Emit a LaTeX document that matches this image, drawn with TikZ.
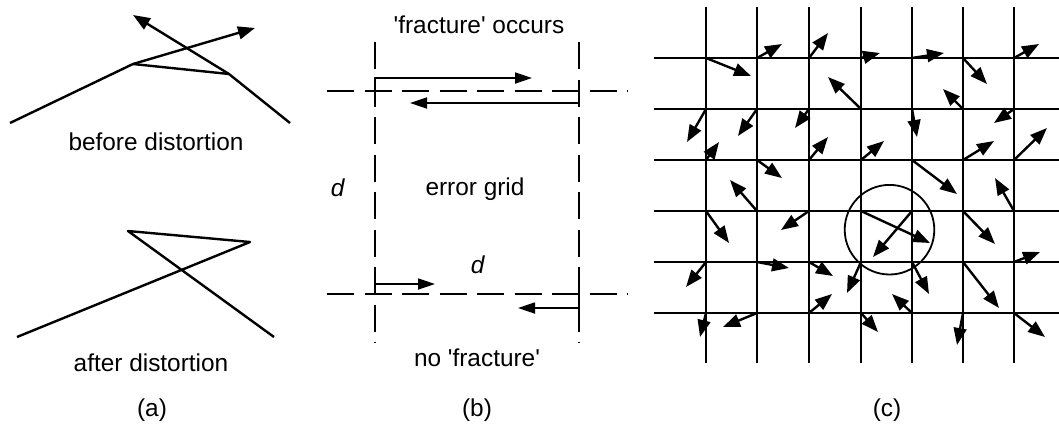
\documentclass[tikz,border=0pt]{standalone}
\usepackage{fontspec}
\setmainfont{Liberation Sans}[Ligatures=TeXOff]
\usetikzlibrary{arrows.meta}
\begin{document}
\begin{tikzpicture}[x=0.5pt,y=-0.5pt,
  tip/.style={-{Triangle[length=8.5pt,width=6.4pt]}},
  ln/.style={line width=1.2pt,line join=round},
  thin arrow/.style={line width=0.9pt,-{Triangle[length=8.5pt,width=5.5pt]}},
  dsh/.style={line width=1.1pt,dash pattern=on 13.5pt off 5.25pt},
  gridline/.style={line width=1.2pt},
  lbl/.style={anchor=base,inner sep=0pt,font=\fontsize{12.2}{14}\selectfont}]
\useasboundingbox (0,0) rectangle (1059,424);

% ---------- panel (a) ----------
\coordinate (a1) at (10,123);
\coordinate (a2) at (133,64);
\coordinate (a3) at (255,28);
\coordinate (a4) at (229,74);
\coordinate (a5) at (290,123);
\coordinate (a6) at (133,15);
\draw[ln,tip] (a1) -- (a2) -- (a3);
\draw[ln,tip] (a5) -- (a4) -- (a6);
\draw[ln] (a2) -- (a4);
\node[lbl] (tbefore) at (156,150) {before distortion};

\coordinate (b1) at (17,337);
\coordinate (b2) at (250,242);
\coordinate (b3) at (128,231);
\coordinate (b4) at (274,337);
\draw[ln] (b1) -- (b2) -- (b3) -- (b4);
\node[lbl] (tafter) at (151,371) {after distortion};
\node[lbl] (la) at (152,416) {(a)};

% ---------- panel (b) ----------
\draw[dsh] (375,42) -- (375,343);
\draw[dsh] (579,42) -- (579,343);
\draw[dsh] (327,91) -- (628,91);
\draw[dsh] (327,294) -- (628,294);

\coordinate (p1) at (375,91);
\coordinate (p1t) at (532,78);
\draw[thin arrow] (p1) -- (375,78) -- (p1t);
\coordinate (p2) at (579,91);
\coordinate (p2t) at (410,103);
\draw[thin arrow] (p2) -- (579,103) -- (p2t);
\coordinate (p3) at (375,294);
\coordinate (p3t) at (435,284);
\draw[thin arrow] (p3) -- (375,284) -- (p3t);
\coordinate (p4) at (579,294);
\coordinate (p4t) at (518,308);
\draw[thin arrow] (p4) -- (579,308) -- (p4t);

\node[lbl] (tfr) at (479,33) {'fracture' occurs};
\node[lbl] (td1) at (338,196) {\textit{d}};
\node[lbl] (teg) at (475,195) {error grid};
\node[lbl] (td2) at (478,273) {\textit{d}};
\node[lbl] (tnf) at (477,366) {no 'fracture'};
\node[lbl] (lb) at (477,416) {(b)};

% ---------- panel (c) ----------
\foreach \x in {706,757,809,861,912,963,1014}
  \draw[gridline] (\x,7) -- (\x,363);
\foreach \y in {58,109,160,211,262,313}
  \draw[gridline] (654,\y) -- (1059,\y);

\foreach \sx/\sy/\ex/\ey in {
  706/58/751/76, 757/58/782/44, 809/58/828/33, 861/58/880/53, 912/58/944/53, 963/58/987/84, 1014/58/1039/44,
  706/109/687/142, 757/109/738/136, 809/109/795/128, 861/109/828/77, 912/109/917/137, 963/109/943/89, 1014/109/994/123,
  706/160/719/142, 757/160/782/178, 809/160/828/137, 861/160/884/141, 912/160/957/194, 963/160/994/141, 1014/160/1047/128,
  706/211/729/243, 757/211/730/180, 809/211/781/230, 861/211/930/243, 912/211/873/257, 963/211/995/244, 1014/211/995/178,
  706/262/686/287, 757/262/789/268, 809/262/833/276, 861/262/847/293, 912/262/929/294, 963/262/999/308, 1014/262/1040/252,
  706/313/700/337, 757/313/723/327, 809/313/832/294, 861/313/878/332, 912/313/892/294, 963/313/957/345, 1014/313/1045/337}
  \draw[line width=1.2pt,tip] (\sx,\sy) -- (\ex,\ey);

\draw[line width=0.9pt] (889.5,229.7) circle[radius=22.4pt];
\node[lbl] (lc) at (887,416) {(c)};
\end{tikzpicture}
\end{document}
